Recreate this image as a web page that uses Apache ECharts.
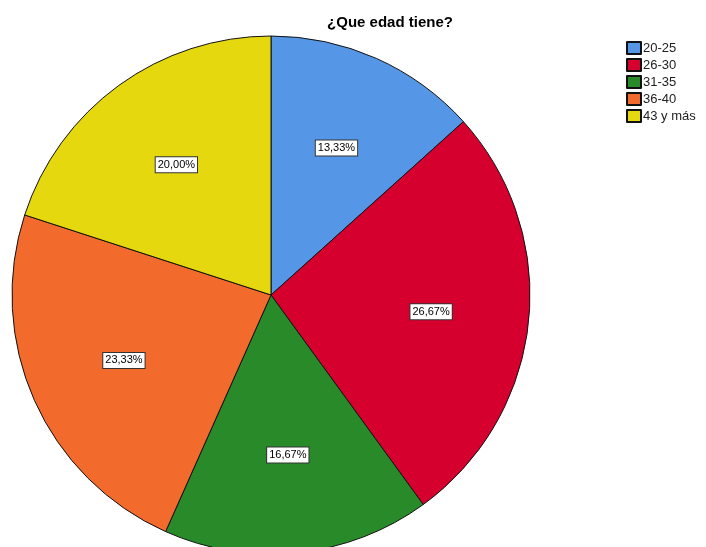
<!DOCTYPE html>
<html>
<head>
<meta charset="utf-8">
<script src="https://cdn.jsdelivr.net/npm/echarts@6/dist/echarts.min.js"></script>
<style>
  html, body { margin: 0; padding: 0; background: #fff; }
  #chart { width: 706px; height: 547px; }
</style>
</head>
<body>
<div id="chart"></div>
<script>
// Age groups and their share of respondents (%)
const categories = ['20-25', '26-30', '31-35', '36-40', '43 y más'];
const percentages = [13.33, 26.67, 16.67, 23.33, 20.00];
const colors = ['#5597E6', '#D6002F', '#298A2A', '#F26A2C', '#E5D80F'];

const R = 259;
const center = [271, 295];

const chart = echarts.init(document.getElementById('chart'));

const sliceData = categories.map((name, i) => ({
  name,
  value: percentages[i],
  itemStyle: { color: colors[i] }
}));

chart.setOption({
  animation: false,
  title: {
    text: '¿Que edad tiene?',
    left: 385,
    top: 10,
    textAlign: 'center',
    textStyle: { fontFamily: 'Liberation Sans, Arial', fontSize: 15, fontWeight: 'bold', color: '#000' }
  },
  legend: {
    orient: 'vertical',
    left: 626,
    top: 41,
    padding: 0,
    itemWidth: 14,
    itemHeight: 12,
    itemGap: 3,
    icon: 'rect',
    data: categories,
    textStyle: {
      fontFamily: 'Liberation Sans, Arial', fontSize: 13, lineHeight: 12,
      color: '#222', padding: [0, 0, 0, -3]
    }
  },
  series: [
    {
      type: 'pie',
      center,
      radius: [0, R],
      startAngle: 90,
      clockwise: true,
      silent: true,
      label: { show: false },
      labelLine: { show: false },
      itemStyle: { borderColor: '#111', borderWidth: 1 },
      data: sliceData
    },
    {
      // transparent ring used only to place the value labels
      type: 'pie',
      center,
      radius: [R * 0.40, R * 0.82],
      startAngle: 90,
      clockwise: true,
      silent: true,
      legendHoverLink: false,
      itemStyle: { color: 'rgba(0,0,0,0)', borderWidth: 0 },
      label: {
        show: true,
        position: 'inside',
        formatter: p => p.value.toFixed(2).replace('.', ',') + '%',
        fontFamily: 'Liberation Sans, Arial',
        fontSize: 11,
        color: '#000',
        backgroundColor: '#fff',
        borderColor: '#333',
        borderWidth: 1,
        padding: [2, 2, 2, 2]
      },
      labelLine: { show: false },
      data: categories.map((name, i) => ({ name: name + ' ', value: percentages[i] }))
    }
  ]
});
</script>
</body>
</html>
